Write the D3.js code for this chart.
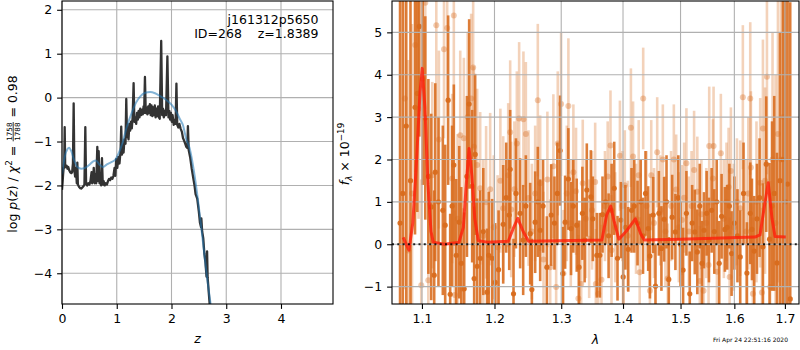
<!DOCTYPE html>
<html lang="en">
<head>
<meta charset="UTF-8">
<title>j161312p5650 fit</title>
<script src="https://cdn.jsdelivr.net/npm/d3@7"></script>
<style>
	body{margin:0;background:#fff;}
	svg{display:block;font-family:"DejaVu Sans",sans-serif;}
	.grid line{stroke:#b0b0b0;stroke-width:1.1;}
	.frame{fill:none;stroke:#000;stroke-width:1.1;}
</style>
</head>
<body>
<svg width="800" height="350"></svg>
<script>
// ---- p(z) panel ----
var pzZ = [0.000,0.010,0.020,0.030,0.040,0.049,0.058,0.070,0.085,0.100,0.115,0.130,0.150,0.170,0.185,0.200,0.213,0.226,0.240,0.255,
	0.270,0.280,0.290,0.310,0.330,0.350,0.370,0.390,0.410,0.426,0.440,0.460,0.480,0.500,0.520,0.540,0.550,0.570,0.580,0.595,
	0.610,0.625,0.645,0.655,0.670,0.685,0.700,0.715,0.730,0.745,0.760,0.780,0.800,0.820,0.840,0.860,0.880,0.900,0.920,0.940,
	0.960,0.975,0.990,1.010,1.030,1.050,1.070,1.082,1.095,1.110,1.125,1.140,1.160,1.174,1.188,1.200,1.215,1.230,1.245,1.260,
	1.275,1.290,1.308,1.322,1.340,1.355,1.370,1.385,1.400,1.415,1.430,1.445,1.460,1.475,1.490,1.500,1.515,1.530,1.545,1.560,
	1.575,1.590,1.605,1.620,1.635,1.650,1.665,1.680,1.695,1.710,1.725,1.740,1.755,1.770,1.785,1.812,1.830,1.845,1.860,1.880,
	1.900,1.925,1.945,1.960,1.975,1.990,2.005,2.020,2.040,2.060,2.075,2.090,2.105,2.125,2.145,2.165,2.190,2.210,2.230,2.250,
	2.270,2.290,2.300,2.315,2.340,2.370,2.400,2.420,2.440,2.470,2.500,2.520,2.540,2.545,2.560,2.580,2.600,2.620,2.640,2.650,
	2.660,2.700];
var pzLog = [-2.10,-1.95,-1.75,-1.60,-1.60,-0.67,-1.55,-1.58,-1.55,-1.62,-1.58,-1.65,-1.70,-1.72,-1.70,-1.50,-0.13,-1.65,-1.80,-1.60,
	-1.95,-1.48,-1.98,-2.03,-2.06,-2.07,-2.05,-2.02,-1.98,-0.67,-1.95,-2.00,-1.95,-1.98,-1.90,-1.70,-1.95,-1.85,-1.60,-1.95,
	-1.75,-1.95,-1.12,-1.90,-1.22,-1.95,-1.80,-2.00,-1.38,-1.98,-1.90,-2.00,-1.95,-1.98,-1.90,-1.85,-1.88,-1.82,-1.85,-1.78,
	-1.60,-1.78,-1.40,-1.60,-1.35,-1.50,-1.20,-0.66,-1.30,-1.10,-1.25,-0.95,-1.05,-0.03,-0.90,-0.80,-0.95,-0.60,-0.75,-0.55,
	-0.70,-0.45,0.33,-0.55,-0.45,-0.60,-0.35,-0.50,-0.30,-0.45,-0.25,-0.40,-0.28,-0.38,-0.20,-0.35,0.47,-0.35,-0.22,-0.38,
	-0.20,-0.35,-0.15,-0.40,-0.18,-0.42,-0.22,-0.40,-0.18,-0.45,-0.25,-0.42,-0.20,-0.45,-0.48,1.29,-0.40,-0.25,-0.45,-0.30,
	-0.40,0.94,-0.45,-0.30,-0.50,-0.35,-0.55,-0.40,-0.62,-0.50,-0.60,0.32,-0.62,-0.68,-0.60,-0.70,-0.78,-0.92,-0.98,-1.05,
	-1.12,-1.15,-0.65,-1.20,-1.35,-1.62,-1.85,-2.00,-2.20,-2.30,-2.60,-2.85,-2.95,-2.75,-3.05,-3.20,-3.55,-3.75,-4.08,-3.50,
	-4.10,-4.75];
var smoothZ = [0,0.05,0.10,0.13,0.17,0.22,0.28,0.35,0.42,0.50,0.57,0.62,0.68,0.75,0.82,0.90,0.97,1.03,1.10,1.18,
	1.27,1.35,1.43,1.52,1.61,1.70,1.80,1.90,2.00,2.08,2.15,2.21,2.27,2.33,2.40,2.48,2.55,2.64,2.72];
var smoothLog = [-1.75,-1.35,-1.17,-1.14,-1.22,-1.42,-1.58,-1.62,-1.60,-1.53,-1.45,-1.43,-1.52,-1.58,-1.52,-1.47,-1.42,-1.28,-1.05,-0.68,
	-0.36,-0.12,0.03,0.11,0.13,0.10,0.03,-0.05,-0.16,-0.30,-0.48,-0.63,-0.95,-1.15,-1.60,-2.30,-3.02,-4.00,-4.75];
var pzXTicks = [0,1,2,3,4];
var pzYTicks = [-4,-3,-2,-1,0,1,2];
var pzLabel = ["j161312p5650", "ID=268    z=1.8389"];

// ---- spectrum panel: [wavelength, flux, error] ----
var darkPts = [
	[1.0715,0.5,6.0],[1.0750,1.2,5.5],[1.0795,2.79,4.5],[1.0850,1.5,4.5],[1.0909,3.23,3.0],[1.0939,3.56,2.8],[1.0965,5.14,2.6],[1.1010,3.9,2.5],[1.1044,2.98,2.4],[1.1085,1.6,2.3],
	[1.1123,0.88,2.2],[1.1163,-0.73,2.0],[1.1177,1.70,2.1],[1.1220,1.0,2.0],[1.1279,0.80,2.0],[1.1311,0.45,1.9],[1.1351,3.40,2.0],[1.1379,-1.18,1.9],[1.1405,0.9,1.9],[1.1429,1.87,1.9],
	[1.1462,-0.26,1.8],[1.1503,0.52,1.8],[1.1531,-0.45,1.8],[1.1572,-1.05,1.8],[1.1610,1.6,1.9],[1.1641,3.31,2.0],[1.1683,1.37,1.8],[1.1711,-0.81,1.7],[1.1725,2.12,1.9],[1.1753,-0.52,1.6],
	[1.1796,-0.33,1.6],[1.1840,0.3,1.5],[1.1894,-1.13,1.5],[1.1917,-0.26,1.5],[1.1966,-0.33,1.4],[1.2010,-0.9,1.4],[1.2059,-0.60,1.4],[1.2126,0.47,1.4],[1.2170,1.1,1.3],[1.2214,0.69,1.3],
	[1.2228,1.77,1.4],[1.2277,-1.17,1.3],[1.2313,1.20,1.3],[1.2375,0.73,1.3],[1.2420,0.1,1.3],[1.2460,0.9,1.2],[1.2525,0.25,1.2],[1.2550,-1.07,1.2],[1.2600,0.52,1.2],[1.2640,1.0,1.3],
	[1.2676,0.33,1.2],[1.2720,0.9,1.1],[1.2778,-0.54,1.2],[1.2845,0.69,1.2],[1.2895,0.50,1.1],[1.2940,1.2,1.2],[1.2983,2.21,1.3],[1.3025,-0.69,1.1],[1.3061,0.52,1.1],[1.3112,1.54,1.2],
	[1.3154,0.37,1.1],[1.3190,0.9,1.1],[1.3244,0.45,1.1],[1.3281,-0.54,1.1],[1.3334,0.73,1.1],[1.3370,0.1,1.0],[1.3405,1.28,1.1],[1.3470,1.12,1.1],[1.3502,0.60,1.0],[1.3567,-0.26,1.0],
	[1.3617,-0.26,1.0],[1.3660,0.7,0.9],[1.3710,1.0,1.0],[1.3760,0.2,1.0],[1.3810,0.8,1.1],[1.3853,1.32,1.1],[1.3908,-0.33,1.0],[1.3965,0.57,0.9],[1.4003,-0.77,1.0],[1.4040,0.4,1.0],
	[1.4088,-0.12,1.0],[1.4144,0.80,1.0],[1.4190,0.90,1.1],[1.4246,0.50,1.0],[1.4300,1.0,1.0],[1.4340,0.2,0.9],[1.4383,1.20,1.0],[1.4429,0.37,1.0],[1.4459,-0.28,1.0],[1.4516,0.69,0.9],
	[1.4556,-0.99,1.0],[1.4615,0.73,1.0],[1.4660,-0.10,1.0],[1.4708,0.59,1.0],[1.4750,1.0,1.1],[1.4790,-0.83,1.0],[1.4850,0.64,1.0],[1.4908,0.29,0.9],[1.4960,1.1,1.0],[1.5000,0.0,1.0],
	[1.5046,-0.61,1.0],[1.5106,0.73,1.0],[1.5167,-1.17,1.0],[1.5210,0.5,0.9],[1.5258,0.29,1.0],[1.5305,-0.18,1.0],[1.5350,0.9,1.0],[1.5391,-0.45,1.0],[1.5428,0.33,0.9],[1.5477,0.73,1.0],
	[1.5520,0.1,1.0],[1.5570,0.80,1.0],[1.5620,0.3,1.0],[1.5665,1.0,1.0],[1.5712,-0.45,1.0],[1.5757,0.66,1.0],[1.5820,0.35,1.0],[1.5863,0.40,1.0],[1.5905,0.9,1.0],[1.5947,-0.22,1.0],
	[1.6000,0.5,1.1],[1.6060,0.2,1.1],[1.6113,-0.30,1.1],[1.6177,1.20,1.2],[1.6243,-0.68,1.2],[1.6308,0.73,1.2],[1.6341,0.35,1.2],[1.6386,-0.16,1.3],[1.6440,0.6,1.3],[1.6491,1.10,1.4],
	[1.6558,-0.06,1.5],[1.6624,1.89,1.6],[1.6690,0.12,1.8],[1.6740,0.9,2.0],[1.6784,1.20,2.3],[1.6839,-0.44,2.6],[1.6900,1.5,3.5],[1.6960,2.0,5.0],[1.7010,1.0,6.0],[1.7055,1.42,6.0],
	[1.7109,-1.29,7.0]
];
var lightPts = [
	[1.0776,3.44,4.5],[1.0821,-0.15,4.5],[1.0870,1.2,4.0],[1.0912,4.70,3.0],[1.0955,3.2,2.6],[1.0991,-0.97,2.5],[1.1044,5.70,2.5],[1.1084,-0.85,2.3],[1.1137,1.63,2.2],[1.1191,5.17,2.2],
	[1.1226,2.47,2.1],[1.1295,4.60,2.1],[1.1338,5.10,2.1],[1.1406,1.55,2.0],[1.1429,5.40,2.0],[1.1443,-1.20,2.0],[1.1480,0.6,2.0],[1.1517,2.57,2.0],[1.1553,-1.05,1.9],[1.1567,2.50,1.9],
	[1.1620,3.0,2.0],[1.1669,3.44,2.0],[1.1697,4.17,1.9],[1.1707,2.30,1.9],[1.1753,1.87,1.8],[1.1796,1.32,1.8],[1.1840,0.2,1.8],[1.1880,0.99,1.8],[1.1938,1.30,1.8],[1.1990,0.4,1.7],
	[1.2045,-0.07,1.7],[1.2085,1.5,1.7],[1.2126,0.85,1.7],[1.2199,1.63,1.7],[1.2228,2.64,1.7],[1.2243,0.82,1.6],[1.2290,1.3,1.6],[1.2326,2.38,1.7],[1.2360,2.97,1.8],[1.2424,2.95,1.6],
	[1.2460,2.60,1.7],[1.2500,1.09,1.6],[1.2550,0.3,1.6],[1.2600,1.20,1.6],[1.2640,3.40,1.8],[1.2676,1.44,1.6],[1.2727,-0.36,1.6],[1.2786,1.53,1.6],[1.2829,-0.54,1.6],[1.2878,1.84,1.7],
	[1.2921,-1.01,1.5],[1.2946,2.38,1.7],[1.2998,3.31,1.7],[1.3035,-0.69,1.5],[1.3087,1.20,1.6],[1.3112,3.26,1.6],[1.3150,0.5,1.5],[1.3191,1.70,1.6],[1.3233,1.25,1.5],[1.3270,-1.28,1.5],
	[1.3315,-0.94,1.5],[1.3340,1.44,1.5],[1.3390,0.6,1.4],[1.3443,0.13,1.4],[1.3490,0.8,1.4],[1.3540,1.47,1.4],[1.3551,-0.94,1.3],[1.3589,-1.17,1.3],[1.3643,-0.84,1.3],[1.3700,0.9,1.3],
	[1.3745,1.6,1.3],[1.3791,2.33,1.3],[1.3808,-0.14,1.3],[1.3870,0.4,1.3],[1.3948,2.09,1.3],[1.3990,0.9,1.3],[1.4030,1.39,1.3],[1.4080,0.2,1.3],[1.4133,2.75,1.4],[1.4170,2.07,1.3],
	[1.4220,0.6,1.3],[1.4266,1.63,1.3],[1.4283,-0.66,1.3],[1.4343,3.44,1.2],[1.4400,0.9,1.3],[1.4459,-1.10,1.3],[1.4482,1.63,1.3],[1.4530,0.5,1.3],[1.4586,2.17,1.3],[1.4640,0.8,1.3],
	[1.4685,2.00,1.3],[1.4730,0.3,1.3],[1.4772,-0.81,1.3],[1.4830,0.9,1.3],[1.4880,2.00,1.3],[1.4922,1.29,1.3],[1.4970,0.4,1.3],[1.5024,0.57,1.3],[1.5065,1.1,1.3],[1.5106,1.91,1.3],
	[1.5150,0.3,1.3],[1.5200,0.9,1.3],[1.5246,1.75,1.4],[1.5305,1.24,1.3],[1.5351,-0.87,1.3],[1.5380,0.71,1.3],[1.5420,-1.10,1.3],[1.5470,0.5,1.3],[1.5513,-0.49,1.3],[1.5525,2.32,1.4],
	[1.5594,1.55,1.4],[1.5606,2.32,1.4],[1.5669,-0.65,1.3],[1.5743,2.15,1.4],[1.5800,0.6,1.4],[1.5850,1.0,1.4],[1.5890,1.35,1.4],[1.5910,-0.77,1.4],[1.5934,1.73,1.5],[1.5990,0.4,1.5],
	[1.6050,1.0,1.5],[1.6113,0.85,1.6],[1.6164,3.47,1.7],[1.6230,0.3,1.7],[1.6270,1.2,1.8],[1.6308,3.44,1.8],[1.6321,1.81,1.8],[1.6360,-1.17,1.8],[1.6430,1.0,1.9],[1.6504,1.45,2.0],
	[1.6538,-1.14,2.0],[1.6558,2.73,2.1],[1.6600,1.5,2.2],[1.6638,3.95,2.3],[1.6703,-1.01,2.5],[1.6750,2.0,3.0],[1.6810,0.5,3.5],[1.6859,2.60,3.5],[1.6920,2.0,5.0],[1.6970,3.0,6.0]
];
var modelWave = [1.0755,1.0830,1.0880,1.0930,1.0975,1.1004,1.1040,1.1080,1.1120,1.1150,1.1300,1.1480,1.1500,1.1560,1.1600,1.1640,1.1680,1.1720,1.1770,1.1900,
	1.2200,1.2280,1.2340,1.2420,1.2500,1.3650,1.3730,1.3795,1.3850,1.3930,1.4050,1.4209,1.4300,1.4360,1.5000,1.6400,1.6500,1.6600,1.6664,1.6740,
	1.6800,1.7018];
var modelFlux = [0.16,-0.14,0.5,2.0,3.6,4.15,3.2,1.4,0.3,0.05,0.0,0.04,0.05,0.4,1.4,2.26,1.6,0.6,0.08,0.05,
	0.07,0.4,0.61,0.3,0.07,0.1,0.7,0.9,0.55,0.12,0.3,0.6,0.25,0.1,0.12,0.17,0.22,1.0,1.45,0.6,
	0.18,0.17];
var specXTicks = [1.1,1.2,1.3,1.4,1.5,1.6,1.7];
var specYTicks = [-1,0,1,2,3,4,5];
var stamp = "Fri Apr 24 22:51:16 2020";

var svg = d3.select("svg");
var fs = 12.5;
var orange = "#d86b1c";

function panel(x0, x1, y0, y1, xs, ys, xt, yt, xfmt, id){
	var g = svg.append("g");
	g.append("clipPath").attr("id", id).append("rect")
		.attr("x", x0).attr("y", y0).attr("width", x1 - x0).attr("height", y1 - y0);
	var grid = g.append("g").attr("class","grid");
	grid.selectAll(".gx").data(xt).enter().append("line")
		.attr("x1", d => xs(d)).attr("x2", d => xs(d)).attr("y1", y0).attr("y2", y1);
	grid.selectAll(".gy").data(yt).enter().append("line")
		.attr("y1", d => ys(d)).attr("y2", d => ys(d)).attr("x1", x0).attr("x2", x1);
	var ax = d3.axisBottom(xs).tickValues(xt).tickSize(4.9).tickPadding(5.5).tickSizeOuter(0).tickFormat(xfmt);
	var ay = d3.axisLeft(ys).tickValues(yt).tickSize(4.9).tickPadding(4.9).tickSizeOuter(0).tickFormat(d3.format("d"));
	var gx = g.append("g").attr("transform","translate(0," + y1 + ")").call(ax);
	var gy = g.append("g").attr("transform","translate(" + x0 + ",0)").call(ay);
	[gx, gy].forEach(a => {
		a.select(".domain").remove();
		a.attr("font-size", fs).attr("font-family", '"DejaVu Sans",sans-serif');
		a.selectAll("line").attr("stroke-width", 1.1);
		a.selectAll("text").attr("fill","#000");
	});
	var plot = g.append("g").attr("clip-path", "url(#" + id + ")");
	var top = g.append("g");
	top.append("rect").attr("class","frame").attr("x", x0).attr("y", y0).attr("width", x1 - x0).attr("height", y1 - y0);
	return {g: g, grid: grid, plot: plot};
}

// ---------- left: p(z) ----------
var zx = d3.scaleLinear().domain([0, 4.95]).range([62, 333]);
var zy = d3.scaleLinear().domain([-4.70, 2.20]).range([304, 1]);
var left = panel(62, 333, 1, 304, zx, zy, pzXTicks, pzYTicks, d3.format("d"), "clipL");
left.g.node().insertBefore(left.plot.node(), left.grid.node().nextSibling);

var pzLine = d3.line().x(d => zx(d[0])).y(d => zy(d[1]));
left.plot.append("path")
	.datum(pzZ.map((z, i) => [z, pzLog[i]]))
	.attr("d", pzLine).attr("fill","none")
	.attr("stroke","#333").attr("stroke-width",2.3).attr("stroke-linejoin","round");
left.plot.append("path")
	.datum(smoothZ.map((z, i) => [z, smoothLog[i]]))
	.attr("d", pzLine.curve(d3.curveMonotoneX)).attr("fill","none")
	.attr("stroke","#1f77b4").attr("stroke-opacity",0.55).attr("stroke-width",2);

left.g.selectAll(".lab").data(pzLabel).enter().append("text")
	.attr("x", 318.5).attr("y", (d, i) => 24 + i * 14.3)
	.attr("text-anchor","end").attr("font-size", fs)
	.style("white-space","pre").text(d => d);

svg.append("text").attr("x", 197.5).attr("y", 343).attr("text-anchor","middle")
	.attr("font-size", fs).attr("font-style","italic").text("z");

// rotated label built piece by piece
function mathLabel(tx, ty, pieces){
	var g = svg.append("g").attr("transform","translate(" + tx + "," + ty + ") rotate(-90)");
	var inner = g.append("g");
	var cx = 0;
	pieces.forEach(p => {
		if(p.frac){
			var a = inner.append("text").attr("font-size", p.size).text(p.frac[0]);
			var b = inner.append("text").attr("font-size", p.size).text(p.frac[1]);
			var w = Math.max(a.node().getComputedTextLength(), b.node().getComputedTextLength());
			a.attr("x", cx + 1 + w / 2).attr("y", -4.6).attr("text-anchor","middle");
			b.attr("x", cx + 1 + w / 2).attr("y", 3.8).attr("text-anchor","middle");
			inner.append("line").attr("x1", cx + 0.5).attr("x2", cx + w + 1.5)
				.attr("y1", -3.3).attr("y2", -3.3).attr("stroke","#000").attr("stroke-width",0.8);
			cx += w + 2;
			return;
		}
		var t = inner.append("text").attr("x", cx).attr("y", p.dy || 0)
			.attr("font-size", p.size || fs)
			.attr("font-style", p.it ? "italic" : null)
			.style("white-space","pre").text(p.t);
		cx += t.node().getComputedTextLength();
	});
	inner.attr("transform","translate(" + (-cx / 2) + ",0)");
}
mathLabel(16.5, 154, [
	{t:"log "}, {t:"p", it:true}, {t:"("}, {t:"z", it:true}, {t:") / "}, {t:"χ", it:true},
	{t:"2", size:8.8, dy:-5}, {t:" = "}, {frac:["1758","1788"], size:7.2}, {t:" = 0.98"}
]);

// ---------- right: spectrum ----------
var sx = d3.scaleLog().domain([1.0612, 1.729]).range([392, 799]);
var sy = d3.scaleLinear().domain([-1.41, 5.74]).range([304, 1]);
var right = panel(392, 799, 1, 304, sx, sy, specXTicks, specYTicks, d3.format(".1f"), "clipR");
// errorbars sit below the grid, the model above it
var under = right.g.insert("g", function(){ return right.grid.node(); }).attr("clip-path","url(#clipR)");

function errbars(pts, barOp, dotOp, dotR){
	var gg = under.append("g");
	gg.selectAll("line").data(pts).enter().append("line")
		.attr("x1", d => sx(d[0])).attr("x2", d => sx(d[0]))
		.attr("y1", d => sy(d[1] - d[2])).attr("y2", d => sy(d[1] + d[2]))
		.attr("stroke", orange).attr("stroke-opacity", barOp).attr("stroke-width", 2.6);
	gg.selectAll("circle").data(pts).enter().append("circle")
		.attr("cx", d => sx(d[0])).attr("cy", d => sy(d[1])).attr("r", dotR)
		.attr("fill", orange).attr("fill-opacity", dotOp);
}
errbars(lightPts, 0.3, 0.35, 3);
errbars(darkPts, 0.88, 0.95, 2.6);

right.plot.append("path")
	.datum(modelWave.map((w, i) => [w, modelFlux[i]]))
	.attr("d", d3.line().x(d => sx(d[0])).y(d => sy(d[1])))
	.attr("fill","none").attr("stroke","#ff1e0a").attr("stroke-opacity",0.8)
	.attr("stroke-width",3).attr("stroke-linejoin","round");
right.plot.append("line")
	.attr("x1", 392).attr("x2", 799).attr("y1", sy(0)).attr("y2", sy(0))
	.attr("stroke","#000").attr("stroke-opacity",0.85).attr("stroke-width",2)
	.attr("stroke-dasharray","2,3.3");

svg.append("text").attr("x", 595.5).attr("y", 344).attr("text-anchor","middle")
	.attr("font-size", fs).attr("font-style","italic").text("λ");
mathLabel(348.5, 154, [
	{t:"f", it:true}, {t:"λ", it:true, size:8.8, dy:3}, {t:" × 10"}, {t:"−19", size:8.8, dy:-5}
]);

svg.append("text").attr("x", 788).attr("y", 341.5).attr("text-anchor","end")
	.attr("font-size", 6).text(stamp);
</script>
</body>
</html>
